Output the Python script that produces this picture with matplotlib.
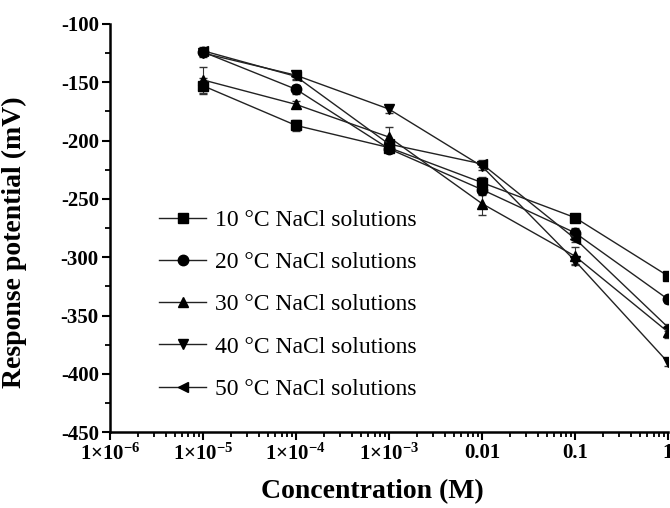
import numpy as np
import matplotlib
matplotlib.use("Agg")
import matplotlib.pyplot as plt
from matplotlib.ticker import FixedLocator, LogLocator, MultipleLocator, NullFormatter

plt.rcParams['font.family'] = ['Liberation Serif', 'DejaVu Serif']
plt.rcParams['mathtext.fontset'] = 'custom'
plt.rcParams['mathtext.rm'] = 'Liberation Serif:bold'
plt.rcParams['mathtext.default'] = 'rm'
plt.rcParams['axes.unicode_minus'] = False

conc = [1e-5, 1e-4, 1e-3, 0.01, 0.1, 1]

labels = ["10 °C NaCl solutions", "20 °C NaCl solutions", "30 °C NaCl solutions",
          "40 °C NaCl solutions", "50 °C NaCl solutions"]
markers = ["s", "o", "^", "v", "<"]

t10 = [-153, -187, -206, -236, -266, -316]
t20 = [-124, -156, -207, -242, -279, -336]
t30 = [-148, -169, -197, -254, -299, -364]
t40 = [-125, -144, -173, -222, -303, -390]
t50 = [-123, -145, -203, -220, -284, -360]

e10 = [7, 5, 3, 5, 3, 3]
e20 = [3, 4, 3, 5, 4, 3]
e30 = [11, 3, 9, 10, 8, 5]
e40 = [3, 3, 3, 3, 3, 3]
e50 = [3, 3, 3, 3, 3, 3]

series = [t10, t20, t30, t40, t50]
errors = [e10, e20, e30, e40, e50]

xticks = [1e-6, 1e-5, 1e-4, 1e-3, 0.01, 0.1, 1]
xticklabels = ["1×10$^{-6}$", "1×10$^{-5}$", "1×10$^{-4}$", "1×10$^{-3}$", "0.01", "0.1", "1"]

fig = plt.figure(figsize=(6.7, 5.08), dpi=100)
ax = fig.add_axes([0.164, 0.149, 0.833, 0.804])

handles = []
for y, e, m, lab in zip(series, errors, markers, labels):
    c = ax.errorbar(conc, y, yerr=e, marker=m, markersize=7.5, color="#222222",
                    mfc="black", mec="black", lw=1.0, elinewidth=0.8, capsize=3,
                    ecolor="#333333", label=lab)
    handles.append(c[0])

ax.set_xscale("log")
ax.set_xlim(1e-6, 1.0)
ax.set_ylim(-450, -100)
ax.xaxis.set_major_locator(FixedLocator(xticks))
ax.set_xticklabels(xticklabels)
ax.xaxis.set_minor_locator(LogLocator(base=10, subs=np.arange(2, 10)))
ax.xaxis.set_minor_formatter(NullFormatter())
ax.yaxis.set_major_locator(MultipleLocator(50))
ax.yaxis.set_minor_locator(MultipleLocator(25))

for s in ["top", "right"]:
    ax.spines[s].set_visible(False)
for s in ["left", "bottom"]:
    ax.spines[s].set_linewidth(1.8)

ax.tick_params(which="major", direction="out", length=6, width=1.5, labelsize=15, pad=2)
ax.tick_params(which="minor", direction="out", length=3.5, width=1.3)
for lbl in ax.get_xticklabels() + ax.get_yticklabels():
    lbl.set_fontweight("bold")

ax.set_xlabel("Concentration (M)", fontsize=20, fontweight="bold")
ax.set_ylabel("Response potential (mV)", fontsize=20, fontweight="bold")
ax.xaxis.set_label_coords(0.47, -0.115)
ax.yaxis.set_label_coords(-0.148, 0.465)

ax.legend(handles=handles, labels=labels, loc="upper left", bbox_to_anchor=(0.05, 0.598),
          frameon=False, fontsize=17, handlelength=2.0, handletextpad=0.35,
          labelspacing=0.88)

fig.savefig("out.png", dpi=100)
